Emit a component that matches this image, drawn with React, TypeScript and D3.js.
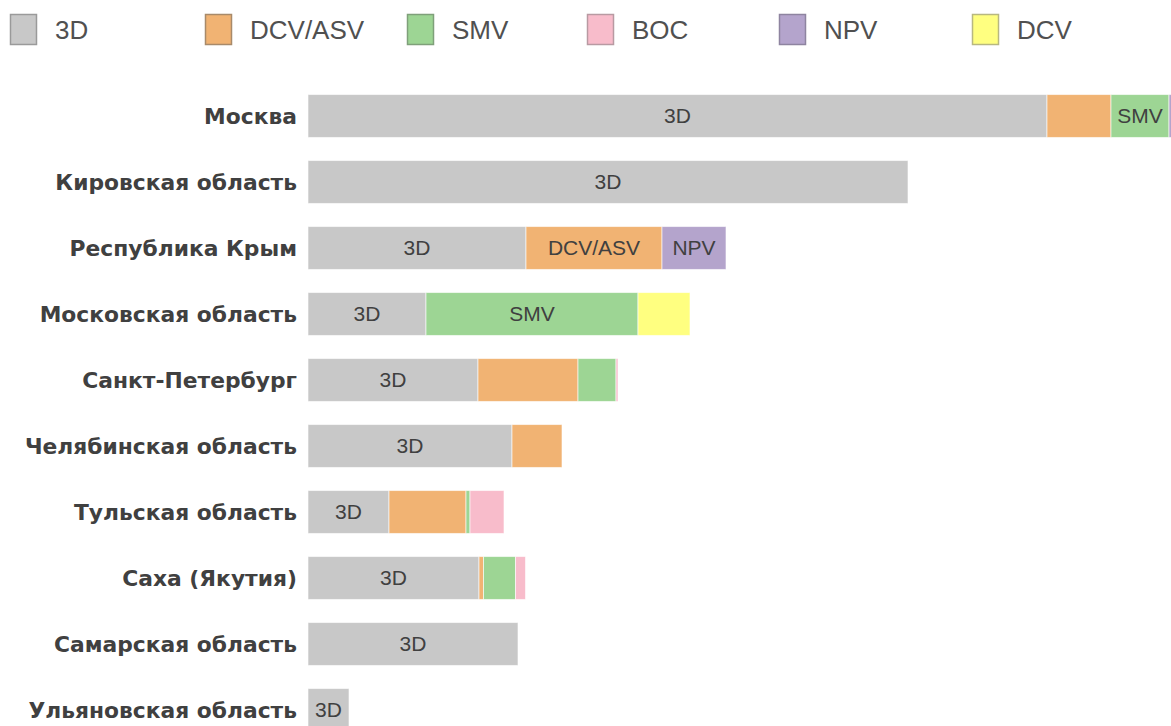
import React, { useEffect, useRef } from "react";
import * as d3 from "d3";

const categories = [
  "Москва",
  "Кировская область",
  "Республика Крым",
  "Московская область",
  "Санкт-Петербург",
  "Челябинская область",
  "Тульская область",
  "Саха (Якутия)",
  "Самарская область",
  "Ульяновская область",
];

const seriesNames = ["3D", "DCV/ASV", "SMV", "BOC", "NPV", "DCV"];
const seriesColors = ["#c8c8c8", "#f1b373", "#9dd594", "#f8bccb", "#b4a4cc", "#ffff80"];
const seriesStroke = ["#9a9a9a", "#a88a6a", "#7fa07a", "#b89aa2", "#8e84a0", "#b8b880"];

const values3D = [739, 600, 218, 118, 170, 204, 81, 171, 210, 41];
const valuesDcvAsv = [64, 0, 136, 0, 100, 50, 77, 4.5, 0, 0];
const valuesSmv = [58, 0, 0, 212, 38, 0, 4, 32, 0, 0];
const valuesBoc = [0, 0, 0, 0, 2, 0, 34, 10, 0, 0];
const valuesNpv = [4, 0, 64, 0, 0, 0, 0, 0, 0, 0];
const valuesDcv = [0, 0, 0, 52, 0, 0, 0, 0, 0, 0];

const legendX = [10, 205, 407, 587, 779, 972];

const W = 1171;
const H = 726;

export default function App() {
  const ref = useRef<SVGSVGElement | null>(null);

  useEffect(() => {
    const svg = d3.select(ref.current);
    svg.selectAll("*").remove();

    const allSeries = [values3D, valuesDcvAsv, valuesSmv, valuesBoc, valuesNpv, valuesDcv];
    const rows = categories.map((c, i) => {
      const r: any = { cat: c };
      seriesNames.forEach((s, j) => (r[s] = allSeries[j][i]));
      return r;
    });
    const stacked = d3.stack().keys(seriesNames)(rows);

    const x = d3.scaleLinear().domain([0, 863]).range([308, 1171]);
    const y = d3
      .scaleBand()
      .domain(categories)
      .range([83, 743])
      .paddingInner(0.35)
      .paddingOuter(0.175);

    // legend
    const lg = svg.append("g");
    seriesNames.forEach((s, j) => {
      lg.append("rect")
        .attr("x", legendX[j] + 0.5)
        .attr("y", 14.5)
        .attr("width", 26)
        .attr("height", 30)
        .attr("fill", seriesColors[j])
        .attr("stroke", seriesStroke[j])
        .attr("stroke-width", 1.5);
      lg.append("text")
        .attr("x", legendX[j] + 45)
        .attr("y", 30)
        .attr("dy", "0.35em")
        .attr("font-family", "'Liberation Sans', Arial, sans-serif")
        .attr("font-size", 26)
        .attr("fill", "#505050")
        .text(s);
    });

    // category labels
    svg
      .append("g")
      .selectAll("text")
      .data(categories)
      .join("text")
      .attr("x", 297)
      .attr("y", (d) => (y(d) as number) + y.bandwidth() / 2)
      .attr("dy", "0.35em")
      .attr("text-anchor", "end")
      .attr("font-family", "'DejaVu Sans', Verdana, sans-serif")
      .attr("font-weight", "bold")
      .attr("font-size", 21.8)
      .attr("fill", "#404040")
      .text((d) => d);

    // bars
    const gBars = svg.append("g");
    stacked.forEach((layer, j) => {
      layer.forEach((seg: any) => {
        const w = x(seg[1]) - x(seg[0]);
        if (w <= 0) return;
        const cat = seg.data.cat;
        gBars
          .append("rect")
          .attr("x", x(seg[0]))
          .attr("y", y(cat) as number)
          .attr("width", w)
          .attr("height", y.bandwidth())
          .attr("fill", seriesColors[j])
          .attr("stroke", "#ffffff")
          .attr("stroke-opacity", 0.6)
          .attr("stroke-width", 1);
      });
    });

    // bar labels
    const gLab = svg.append("g");
    stacked.forEach((layer, j) => {
      layer.forEach((seg: any) => {
        const w = x(seg[1]) - x(seg[0]);
        if (w <= 0) return;
        const cat = seg.data.cat;
        const t = gLab
          .append("text")
          .attr("x", (x(seg[0]) + x(seg[1])) / 2)
          .attr("y", (y(cat) as number) + y.bandwidth() / 2)
          .attr("dy", "0.35em")
          .attr("text-anchor", "middle")
          .attr("font-family", "'Liberation Sans', Arial, sans-serif")
          .attr("font-size", 21)
          .attr("fill", "#404040")
          .text(seriesNames[j]);
        const node = t.node() as SVGTextElement;
        const tw = node.getComputedTextLength();
        if (tw + 10 > w) t.remove();
      });
    });
  }, []);

  return (
    <svg
      ref={ref}
      width={W}
      height={H}
      style={{ position: "absolute", left: 0, top: 0, background: "#fff" }}
    />
  );
}
